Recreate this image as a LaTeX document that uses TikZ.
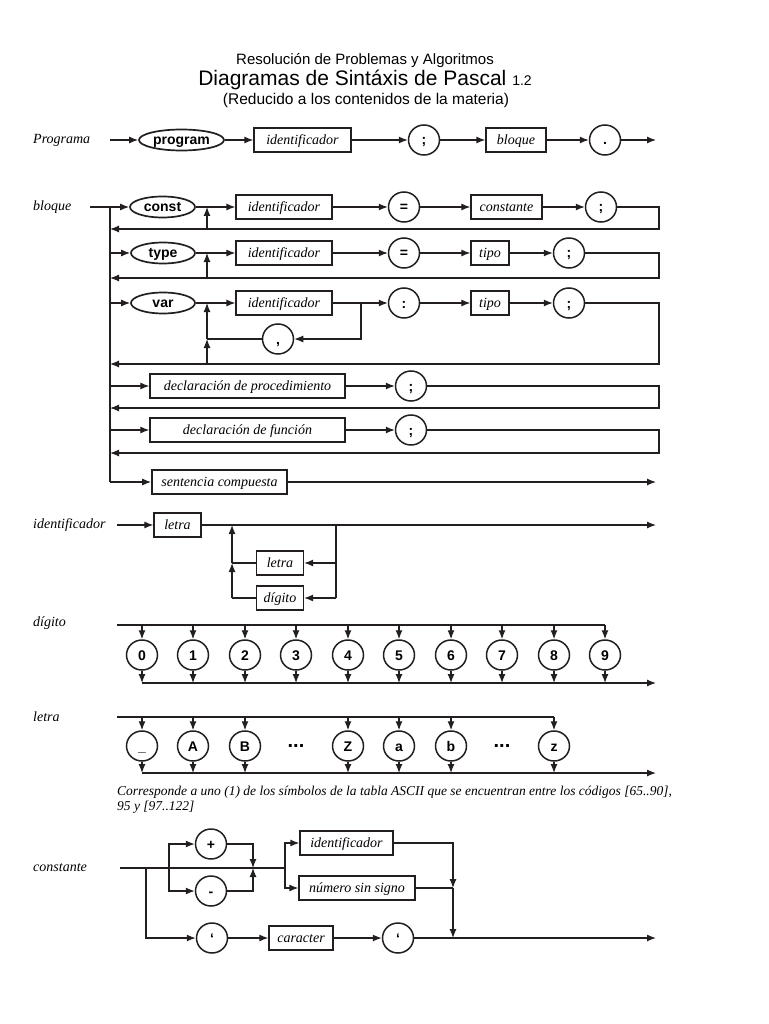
\documentclass[tikz,border=0pt]{standalone}
\usepackage{fontspec}
\setmainfont{Liberation Serif}
\setsansfont{Liberation Sans}
\usepackage{tikz}
\usetikzlibrary{arrows.meta}
\usetikzlibrary{shapes.geometric}

\definecolor{ink}{HTML}{231f20}

\tikzset{
  wire/.style={ink, line width=1.2pt},
  flow/.style={wire, -{Latex[length=9pt,width=7pt]}},
  reserved/.style={draw=ink, ellipse, line width=1.7pt, inner sep=0pt,
    minimum height=21pt, text height=11pt, text depth=1.5pt,
    font=\fontsize{14}{16}\selectfont\sffamily\bfseries},
  symb/.style={draw=ink, ellipse, line width=1.5pt, inner sep=0pt,
    minimum width=31pt, minimum height=30pt, text height=10pt, text depth=0pt,
    font=\fontsize{14}{16}\selectfont\sffamily\bfseries},
  nonterm/.style={draw=ink, rectangle, line width=1.3pt, inner sep=0pt,
    minimum height=24pt, text height=11pt, text depth=2pt,
    font=\fontsize{14}{16}\selectfont\itshape},
  rulename/.style={anchor=west, inner sep=0pt, font=\fontsize{14}{16}\selectfont\itshape},
  ellipsis/.style={inner sep=0pt, font=\fontsize{20}{22}\selectfont\sffamily\bfseries},
  heading/.style={inner sep=0pt, font=\sffamily}
}

\begin{document}
\begin{tikzpicture}[x=1pt, y=-1pt]
        \useasboundingbox (0,0) rectangle (768,1024);

        % heading
        \node [heading, font=\fontsize{15}{18}\selectfont\sffamily]
          (head1) at (365,61) {Resolución de Problemas y Algoritmos};
        \node [heading, font=\fontsize{21}{24}\selectfont\sffamily]
          (head2) at (365,80) {Diagramas de Sintáxis de Pascal {\fontsize{14}{16}\selectfont 1.2}};
        \node [heading, font=\fontsize{15.5}{18}\selectfont\sffamily]
          (head3) at (366,100) {(Reducido a los contenidos de la materia)};

        % programa
        \node [rulename] (progname) at (33,140) {Programa};
        \coordinate (progin) at (110,140);
        \node [reserved, minimum width=85pt] (kwprogram) at (181.5,140) {program};
        \node [nonterm, minimum width=97pt] (progid) at (302.5,140) {identificador};
        \node [symb] (progsemi) at (424,140) {;};
        \node [nonterm, minimum width=60pt] (progblock) at (516,140) {bloque};
        \node [symb] (progdot) at (605,140) {.};
        \coordinate (progout) at (656,140);

        \draw [flow] (progin) -- (kwprogram.west);
        \draw [flow] (kwprogram.east) -- (progid.west);
        \draw [flow] (progid.east) -- (progsemi.west);
        \draw [flow] (progsemi.east) -- (progblock.west);
        \draw [flow] (progblock.east) -- (progdot.west);
        \draw [flow] (progdot.east) -- (progout);

        % bloque
        \node [rulename] (blkname) at (33,207) {bloque};
        \coordinate (blkin) at (90,207);
        \coordinate (bustop) at (110,207);
        \coordinate (busbottom) at (110,482);
        \draw [wire] (blkin) -- (bustop);
        \draw [wire] (bustop) -- (busbottom);

        % bloque: const
        \node [reserved, minimum width=65pt] (kwconst) at (162.5,207) {const};
        \node [nonterm, minimum width=96pt] (constid) at (284,207) {identificador};
        \node [symb] (consteq) at (404,207) {=};
        \node [nonterm, minimum width=71pt] (constval) at (506.5,207) {constante};
        \node [symb] (constsemi) at (601,207) {;};
        \coordinate (constjoin) at (207,207);
        \coordinate (constback) at (207,229);
        \coordinate (constright) at (659,207);
        \coordinate (constcorner) at (659,229);
        \coordinate (constleft) at (110,229);

        \draw [flow] (bustop) -- (kwconst.west);
        \draw [flow] (kwconst.east) -- (constid.west);
        \draw [flow] (constid.east) -- (consteq.west);
        \draw [flow] (consteq.east) -- (constval.west);
        \draw [flow] (constval.east) -- (constsemi.west);
        \draw [flow] (constsemi.east) -- (constright) -- (constcorner) -- (constleft);
        \draw [flow] (constback) -- (constjoin);

        % bloque: type
        \coordinate (typebus) at (110,253);
        \node [reserved, minimum width=64pt] (kwtype) at (163,253) {type};
        \node [nonterm, minimum width=96pt] (typeid) at (284,253) {identificador};
        \node [symb] (typeeq) at (404,253) {=};
        \node [nonterm, minimum width=38pt] (typeval) at (490,253) {tipo};
        \node [symb] (typesemi) at (569,253) {;};
        \coordinate (typejoin) at (207,253);
        \coordinate (typeback) at (207,278);
        \coordinate (typeright) at (659,253);
        \coordinate (typecorner) at (659,278);
        \coordinate (typeleft) at (110,278);

        \draw [flow] (typebus) -- (kwtype.west);
        \draw [flow] (kwtype.east) -- (typeid.west);
        \draw [flow] (typeid.east) -- (typeeq.west);
        \draw [flow] (typeeq.east) -- (typeval.west);
        \draw [flow] (typeval.east) -- (typesemi.west);
        \draw [flow] (typesemi.east) -- (typeright) -- (typecorner) -- (typeleft);
        \draw [flow] (typeback) -- (typejoin);

        % bloque: var
        \coordinate (varbus) at (110,303);
        \node [reserved, minimum width=64pt] (kwvar) at (163,303) {var};
        \node [nonterm, minimum width=96pt] (varid) at (284,303) {identificador};
        \node [symb] (varcolon) at (404,303) {:};
        \node [nonterm, minimum width=38pt] (vartype) at (490,303) {tipo};
        \node [symb] (varsemi) at (569,303) {;};
        \node [symb] (varcomma) at (278,339) {,};
        \coordinate (varsplit) at (361,303);
        \coordinate (varloop) at (361,339);
        \coordinate (varjoin) at (207,303);
        \coordinate (varcommajoin) at (207,339);
        \coordinate (varback) at (207,364);
        \coordinate (varright) at (659,303);
        \coordinate (varcorner) at (659,364);
        \coordinate (varleft) at (110,364);

        \draw [flow] (varbus) -- (kwvar.west);
        \draw [flow] (kwvar.east) -- (varid.west);
        \draw [flow] (varid.east) -- (varcolon.west);
        \draw [flow] (varcolon.east) -- (vartype.west);
        \draw [flow] (vartype.east) -- (varsemi.west);
        \draw [flow] (varsemi.east) -- (varright) -- (varcorner) -- (varleft);
        \draw [flow] (varsplit) -- (varloop) -- (varcomma.east);
        \draw [wire] (varcomma.west) -- (varcommajoin);
        \draw [flow] (varcommajoin) -- (varjoin);
        \draw [flow] (varback) -- (varcommajoin);

        % bloque: procedimientos y funciones
        \coordinate (procbus) at (110,386);
        \node [nonterm, minimum width=195pt] (procdecl) at (247.5,386) {declaración de procedimiento};
        \node [symb] (procsemi) at (411,386) {;};
        \coordinate (procright) at (659,386);
        \coordinate (proccorner) at (659,408);
        \coordinate (procleft) at (110,408);

        \draw [flow] (procbus) -- (procdecl.west);
        \draw [flow] (procdecl.east) -- (procsemi.west);
        \draw [flow] (procsemi.east) -- (procright) -- (proccorner) -- (procleft);

        \coordinate (funcbus) at (110,430);
        \node [nonterm, minimum width=195pt] (funcdecl) at (247.5,430) {declaración de función};
        \node [symb] (funcsemi) at (411,430) {;};
        \coordinate (funcright) at (659,430);
        \coordinate (funccorner) at (659,453);
        \coordinate (funcleft) at (110,453);

        \draw [flow] (funcbus) -- (funcdecl.west);
        \draw [flow] (funcdecl.east) -- (funcsemi.west);
        \draw [flow] (funcsemi.east) -- (funcright) -- (funccorner) -- (funcleft);

        % bloque: sentencia compuesta
        \node [nonterm, minimum width=135pt, line width=1.6pt] (stmt) at (219.5,482) {sentencia compuesta};
        \coordinate (stmtout) at (656,482);
        \draw [flow] (busbottom) -- (stmt.west);
        \draw [flow] (stmt.east) -- (stmtout);

        % identificador
        \node [rulename] (idname) at (33,525) {identificador};
        \coordinate (idin) at (117,525);
        \node [nonterm, minimum width=47pt] (idfirst) at (177.5,525) {letra};
        \node [nonterm, minimum width=47pt] (idletter) at (280,563) {letra};
        \node [nonterm, minimum width=47pt] (iddigit) at (280,598) {dígito};
        \coordinate (idout) at (656,525);
        \coordinate (idleft) at (232,525);
        \coordinate (idright) at (336,525);
        \coordinate (idleftletter) at (232,563);
        \coordinate (idleftdigit) at (232,598);
        \coordinate (idrightletter) at (336,563);
        \coordinate (idrightdigit) at (336,598);

        \draw [flow] (idin) -- (idfirst.west);
        \draw [flow] (idfirst.east) -- (idout);
        \draw [wire] (idright) -- (idrightdigit);
        \draw [flow] (idrightletter) -- (idletter.east);
        \draw [flow] (idrightdigit) -- (iddigit.east);
        \draw [wire] (idletter.west) -- (idleftletter);
        \draw [wire] (iddigit.west) -- (idleftdigit);
        \draw [flow] (idleftdigit) -- (idleftletter);
        \draw [flow] (idleftletter) -- (idleft);

        % digito
        \node [rulename] (digname) at (33,623) {dígito};
        \coordinate (digtop) at (117,625);
        \coordinate (digbottom) at (142,683);
        \coordinate (digout) at (656,683);
        \node [symb] (d0) at (142,655) {0};
        \node [symb] (d1) at (193,655) {1};
        \node [symb] (d2) at (245,655) {2};
        \node [symb] (d3) at (296,655) {3};
        \node [symb] (d4) at (348,655) {4};
        \node [symb] (d5) at (399,655) {5};
        \node [symb] (d6) at (451,655) {6};
        \node [symb] (d7) at (502,655) {7};
        \node [symb] (d8) at (554,655) {8};
        \node [symb] (d9) at (605,655) {9};

        \draw [wire] (digtop) -- (d9 |- digtop);
        \draw [flow] (digbottom) -- (digout);
        \draw [flow] (d0 |- digtop) -- (d0.north);
        \draw [flow] (d1 |- digtop) -- (d1.north);
        \draw [flow] (d2 |- digtop) -- (d2.north);
        \draw [flow] (d3 |- digtop) -- (d3.north);
        \draw [flow] (d4 |- digtop) -- (d4.north);
        \draw [flow] (d5 |- digtop) -- (d5.north);
        \draw [flow] (d6 |- digtop) -- (d6.north);
        \draw [flow] (d7 |- digtop) -- (d7.north);
        \draw [flow] (d8 |- digtop) -- (d8.north);
        \draw [flow] (d9 |- digtop) -- (d9.north);
        \draw [flow] (d0.south) -- (d0 |- digbottom);
        \draw [flow] (d1.south) -- (d1 |- digbottom);
        \draw [flow] (d2.south) -- (d2 |- digbottom);
        \draw [flow] (d3.south) -- (d3 |- digbottom);
        \draw [flow] (d4.south) -- (d4 |- digbottom);
        \draw [flow] (d5.south) -- (d5 |- digbottom);
        \draw [flow] (d6.south) -- (d6 |- digbottom);
        \draw [flow] (d7.south) -- (d7 |- digbottom);
        \draw [flow] (d8.south) -- (d8 |- digbottom);
        \draw [flow] (d9.south) -- (d9 |- digbottom);

        % letra
        \node [rulename] (letname) at (33,717) {letra};
        \coordinate (lettop) at (117,717);
        \coordinate (letbottom) at (142,773);
        \coordinate (letout) at (656,773);
        \node [symb] (lunder) at (142,746) {\_};
        \node [symb] (lupA) at (193,746) {A};
        \node [symb] (lupB) at (245,746) {B};
        \node [ellipsis] (lupdots) at (296,746) {...};
        \node [symb] (lupZ) at (348,746) {Z};
        \node [symb] (lowa) at (399,746) {a};
        \node [symb] (lowb) at (451,746) {b};
        \node [ellipsis] (lowdots) at (502,746) {...};
        \node [symb] (lowz) at (554,746) {z};

        \draw [wire] (lettop) -- (lowz |- lettop);
        \draw [flow] (letbottom) -- (letout);
        \draw [flow] (lunder |- lettop) -- (lunder.north);
        \draw [flow] (lupA |- lettop) -- (lupA.north);
        \draw [flow] (lupB |- lettop) -- (lupB.north);
        \draw [flow] (lupZ |- lettop) -- (lupZ.north);
        \draw [flow] (lowa |- lettop) -- (lowa.north);
        \draw [flow] (lowb |- lettop) -- (lowb.north);
        \draw [flow] (lowz |- lettop) -- (lowz.north);
        \draw [flow] (lunder.south) -- (lunder |- letbottom);
        \draw [flow] (lupA.south) -- (lupA |- letbottom);
        \draw [flow] (lupB.south) -- (lupB |- letbottom);
        \draw [flow] (lupZ.south) -- (lupZ |- letbottom);
        \draw [flow] (lowa.south) -- (lowa |- letbottom);
        \draw [flow] (lowb.south) -- (lowb |- letbottom);
        \draw [flow] (lowz.south) -- (lowz |- letbottom);

        \node [rulename, font=\fontsize{13.5}{16}\selectfont\itshape] (asciinote1) at (117,792)
          {Corresponde a uno (1) de los símbolos de la tabla ASCII que se encuentran entre los códigos [65..90],};
        \node [rulename, font=\fontsize{13.5}{16}\selectfont\itshape] (asciinote2) at (117,807)
          {95 y [97..122]};

        % constante
        \node [rulename] (cstname) at (33,868) {constante};
        \coordinate (cstin) at (120,868);
        \coordinate (cstquote) at (146,868);
        \coordinate (cstquotedown) at (146,938);
        \coordinate (cstsign) at (169,868);
        \coordinate (cstplusin) at (169,844);
        \coordinate (cstminusin) at (169,891);
        \node [symb] (cstplus) at (211,844) {+};
        \node [symb] (cstminus) at (211,891) {-};
        \coordinate (cstsignjoin) at (253,868);
        \coordinate (cstplusout) at (253,844);
        \coordinate (cstminusout) at (253,891);
        \coordinate (cstsplit) at (285,868);
        \coordinate (cstidin) at (285,843);
        \coordinate (cstnumin) at (285,888);
        \node [nonterm, minimum width=93pt] (cstid) at (346.5,843) {identificador};
        \node [nonterm, minimum width=116pt] (cstnum) at (357,888) {número sin signo};
        \coordinate (cstidout) at (453,843);
        \coordinate (cstnumout) at (453,888);
        \coordinate (cstend) at (453,938);
        \node [symb] (cstopen) at (212,938) {‘};
        \node [nonterm, minimum width=64pt] (cstchar) at (301,938) {caracter};
        \node [symb] (cstclose) at (398,938) {‘};
        \coordinate (cstout) at (656,938);

        \draw [wire] (cstin) -- (cstsplit);
        \draw [flow] (cstquote) -- (cstquotedown) -- (cstopen.west);
        \draw [flow] (cstsign) -- (cstplusin) -- (cstplus.west);
        \draw [flow] (cstsign) -- (cstminusin) -- (cstminus.west);
        \draw [flow] (cstplus.east) -- (cstplusout) -- (cstsignjoin);
        \draw [flow] (cstminus.east) -- (cstminusout) -- (cstsignjoin);
        \draw [flow] (cstsplit) -- (cstidin) -- (cstid.west);
        \draw [flow] (cstsplit) -- (cstnumin) -- (cstnum.west);
        \draw [flow] (cstid.east) -- (cstidout) -- (cstnumout);
        \draw [wire] (cstnum.east) -- (cstnumout);
        \draw [flow] (cstnumout) -- (cstend);
        \draw [flow] (cstopen.east) -- (cstchar.west);
        \draw [flow] (cstchar.east) -- (cstclose.west);
        \draw [flow] (cstclose.east) -- (cstout);
    \end{tikzpicture}
\end{document}
